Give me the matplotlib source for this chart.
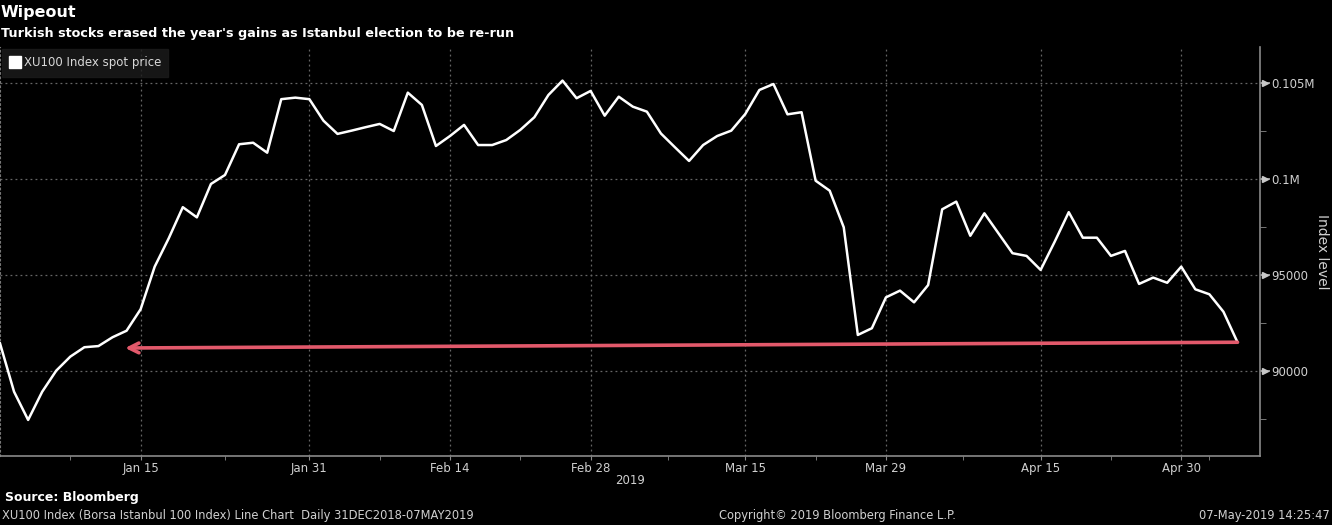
import numpy as np
import pandas as pd
import matplotlib
matplotlib.use("Agg")
import matplotlib.pyplot as plt
from matplotlib.lines import Line2D
from matplotlib.ticker import FixedLocator

# XU100 daily close, trading days 31 Dec 2018 - 07 May 2019
holidays = ["2019-01-01", "2019-04-23", "2019-05-01"]
xu100 = [
    91440, 88920, 87450, 88920, 90020, 90750, 91240, 91300, 91760, 92100,
    93220, 95440, 96920, 98540, 98010, 99750, 100220, 101820, 101900, 101380,
    104170, 104250, 104170, 103050, 102360, 102530, 102710, 102880, 102510, 104510,
    103870, 101730, 102250, 102830, 101780, 101780, 102040, 102570, 103230, 104390,
    105140, 104220, 104600, 103310, 104300, 103780, 103520, 102380, 101660, 100950,
    101780, 102250, 102530, 103400, 104650, 104960, 103380, 103490, 99920, 99400,
    97490, 91880, 92230, 93840, 94190, 93580, 94480, 98430, 98830, 97050,
    98220, 97180, 96140, 96000, 95270, 96740, 98280, 96950, 96950, 96000,
    96260, 94540, 94870, 94600, 95440, 94260, 94000, 93090, 91500,
]
tick_dates = ["2019-01-15", "2019-01-31", "2019-02-14", "2019-02-28",
              "2019-03-15", "2019-03-29", "2019-04-15", "2019-04-30"]
tick_labels = ["Jan 15", "Jan 31", "Feb 14", "Feb 28", "Mar 15", "Mar 29", "Apr 15", "Apr 30"]
y_ticks = [90000, 95000, 100000, 105000]
y_labels = ["90000", "95000", "0.1M", "0.105M"]
arrow_tip = (8.9, 91200)    # (trading-day index, level) where the arrow points

days = pd.bdate_range("2018-12-31", "2019-05-07")
days = days[~days.isin(pd.to_datetime(holidays))]
idx = np.arange(len(days))
tick_idx = [int(np.where(days == pd.Timestamp(d))[0][0]) for d in tick_dates]

W, H = 1332, 525
fig = plt.figure(figsize=(W / 100, H / 100), dpi=100, facecolor="black")


def px(x, y):
    return x / W, 1 - y / H


ax = fig.add_axes([0, 1 - 456 / H, 1260 / W, (456 - 47) / H], facecolor="black")

ax.plot(idx, xu100, color="white", lw=1.8, zorder=3)
ax.annotate("", xy=arrow_tip, xytext=(idx[-1], xu100[-1]),
            arrowprops=dict(arrowstyle="->,head_length=0.7,head_width=0.35",
                            color="#e2596b", lw=2.6, shrinkA=0, shrinkB=0),
            zorder=4)

ax.set_xlim(0, 89.6)
ax.set_ylim(85570, 106890)

# x axis
ax.xaxis.set_major_locator(FixedLocator(tick_idx))
mids = [(a + b) / 2 for a, b in zip([0] + tick_idx, tick_idx + [88])]
ax.xaxis.set_minor_locator(FixedLocator(mids))
ax.set_xticklabels(tick_labels)
ax.tick_params(axis="x", which="both", colors="#8a8a8a", labelcolor="#d0d0d0",
               labelsize=8.5, length=3, direction="out", pad=1)

# y axis on the right
ax.yaxis.tick_right()
ax.set_yticks(y_ticks)
ax.set_yticklabels(y_labels)
ax.yaxis.set_minor_locator(FixedLocator([87500, 92500, 97500, 102500]))
ax.tick_params(axis="y", which="major", colors="#b0b0b0", labelcolor="#d0d0d0",
               labelsize=8.5, length=7, width=1.2, direction="out", pad=1)
ax.tick_params(axis="y", which="minor", colors="#8a8a8a", length=4, direction="out")
for v in y_ticks:
    ax.plot([1.004], [v], marker=">", ms=4, color="#c8c8c8",
            transform=ax.get_yaxis_transform(), clip_on=False)
fig.text(*px(1322, 252), "Index level", color="#d0d0d0", fontsize=10, rotation=-90,
         ha="center", va="center")

ax.spines["top"].set_visible(False)
ax.spines["left"].set_color("#777777")
ax.spines["left"].set_linestyle((0, (1.5, 2.5)))
ax.spines["bottom"].set_color("#8a8a8a")
ax.spines["bottom"].set_linewidth(1.2)
ax.spines["right"].set_color("#8a8a8a")
ax.spines["right"].set_linewidth(1.2)

ax.grid(True, which="major", color="#666666", linestyle=(0, (1.5, 2.5)), lw=0.9)

leg = ax.legend([Line2D([], [], marker="s", color="white", ls="none", markersize=9)],
                ["XU100 Index spot price"], loc="upper left", bbox_to_anchor=(0.0, 1.0),
                frameon=True, facecolor="#1c1c1c", edgecolor="#1c1c1c", fancybox=False,
                fontsize=8.5, labelcolor="#d8d8d8", handletextpad=0.2, borderpad=0.6,
                handlelength=1.0, borderaxespad=0.2)

fig.text(*px(630, 480), "2019", color="#d0d0d0", fontsize=8.5, ha="center", va="center")

fig.text(*px(1, 13), "Wipeout", color="white", fontsize=11.5, fontweight="bold",
         va="center", ha="left")
fig.text(*px(1, 33), "Turkish stocks erased the year's gains as Istanbul election to be re-run",
         color="white", fontsize=9.2, fontweight="bold", va="center", ha="left")

fig.text(*px(5, 498), "Source: Bloomberg", color="white", fontsize=9, fontweight="bold",
         va="center", ha="left")
fig.text(*px(2, 516),
         "XU100 Index (Borsa Istanbul 100 Index) Line Chart  Daily 31DEC2018-07MAY2019",
         color="#d0d0d0", fontsize=8.3, va="center", ha="left")
fig.text(*px(719, 516), "Copyright\u00a9 2019 Bloomberg Finance L.P.", color="#d0d0d0",
         fontsize=8.3, va="center", ha="left")
fig.text(*px(1330, 516), "07-May-2019 14:25:47", color="#d0d0d0", fontsize=8.3,
         va="center", ha="right")

fig.savefig("out.png", dpi=100, facecolor="black")
